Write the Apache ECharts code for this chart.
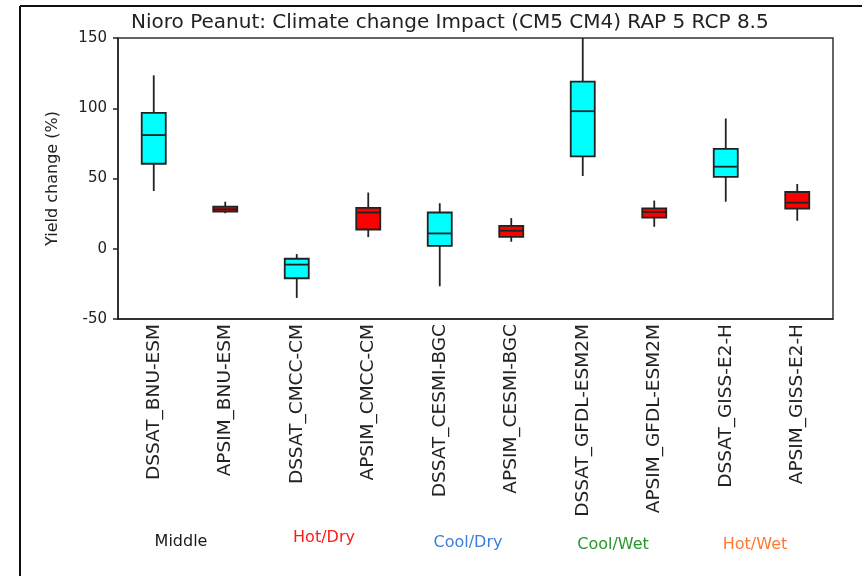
<!DOCTYPE html>
<html>
<head>
<meta charset="utf-8">
<script src="https://cdn.jsdelivr.net/npm/echarts@6/dist/echarts.min.js"></script>
<style>
  html, body { margin: 0; padding: 0; background: #fff; }
  #chart { width: 862px; height: 576px; }
</style>
</head>
<body>
<div id="chart"></div>
<script>
// Model x GCM combinations along the x axis
const categories = [
  'DSSAT_BNU-ESM', 'APSIM_BNU-ESM',
  'DSSAT_CMCC-CM', 'APSIM_CMCC-CM',
  'DSSAT_CESMI-BGC', 'APSIM_CESMI-BGC',
  'DSSAT_GFDL-ESM2M', 'APSIM_GFDL-ESM2M',
  'DSSAT_GISS-E2-H', 'APSIM_GISS-E2-H'
];

// Yield change (%) distribution per combination
const whiskerLow  = [41.1, 25.3, -35.0,  8.3, -26.7,  5.0,  51.8, 15.6, 33.5, 19.9];
const quartile1   = [60.5, 26.5, -21.0, 13.7,   2.1,  8.5,  65.7, 22.2, 51.1, 28.6];
const medianVals  = [80.9, 28.1, -11.3, 25.8,  10.9, 12.8,  97.9, 26.2, 58.4, 32.8];
const quartile3   = [96.7, 30.0,  -7.1, 29.1,  25.8, 16.3, 118.9, 28.8, 71.1, 40.4];
const whiskerHigh = [123.4, 33.5, -3.8, 40.0,  32.4, 21.8, 150.0, 34.3, 92.7, 46.1];

// Crop model of each box
const models = ['DSSAT', 'APSIM', 'DSSAT', 'APSIM', 'DSSAT', 'APSIM', 'DSSAT', 'APSIM', 'DSSAT', 'APSIM'];

// Climate scenario groups written under each pair
const groupLabels = ['Middle', 'Hot/Dry', 'Cool/Dry', 'Cool/Wet', 'Hot/Wet'];

const yTicks = { min: -50, max: 150, interval: 50 };

const modelColors = { DSSAT: '#00ffff', APSIM: '#ff0000' };
const groupColors = ['#1a1a1a', '#ff1a1a', '#3a7fdc', '#2a962a', '#ff7a33'];
const groupPos = [[181, 542], [324, 538], [468, 543], [613, 545], [755, 545]];

const FONT = '"DejaVu Sans", Verdana, sans-serif';
const INK = '#222';

const boxData = categories.map((c, i) => [i, whiskerLow[i], quartile1[i], medianVals[i], quartile3[i], whiskerHigh[i]]);

const chart = echarts.init(document.getElementById('chart'), null, { renderer: 'canvas' });

chart.setOption({
  backgroundColor: '#fff',
  animation: false,
  title: {
    text: 'Nioro Peanut: Climate change Impact (CM5 CM4) RAP 5 RCP 8.5',
    left: 126,
    top: 8,
    textStyle: { fontFamily: FONT, fontSize: 20, fontWeight: 'normal', color: INK }
  },
  grid: {
    left: 118, right: 29, top: 38, bottom: 257,
    show: true, borderColor: '#333', borderWidth: 1.5, backgroundColor: 'transparent'
  },
  xAxis: {
    type: 'category',
    data: categories,
    boundaryGap: true,
    axisLine: { onZero: false, lineStyle: { color: INK, width: 1.5 } },
    axisTick: { alignWithLabel: true, length: 5, lineStyle: { color: INK, width: 1.5 } },
    axisLabel: {
      interval: 0, rotate: 90, margin: 5,
      fontFamily: FONT, fontSize: 18.5, color: INK
    },
    splitLine: { show: false }
  },
  yAxis: {
    type: 'value',
    min: yTicks.min, max: yTicks.max, interval: yTicks.interval,
    name: 'Yield change (%)',
    nameLocation: 'middle',
    nameGap: 57,
    nameTextStyle: { fontFamily: FONT, fontSize: 16, color: INK },
    axisLine: { show: true, lineStyle: { color: INK, width: 1.5 } },
    axisTick: { show: true, length: 5, lineStyle: { color: INK, width: 1.5 } },
    axisLabel: { fontFamily: FONT, fontSize: 15, color: INK, margin: 11 },
    splitLine: { show: false }
  },
  series: [{
    type: 'custom',
    clip: true,
    data: boxData,
    encode: { x: 0, y: [1, 2, 3, 4, 5] },
    renderItem: function (params, api) {
      const idx = api.value(0);
      const lo = api.coord([idx, api.value(1)]);
      const q1 = api.coord([idx, api.value(2)]);
      const md = api.coord([idx, api.value(3)]);
      const q3 = api.coord([idx, api.value(4)]);
      const hi = api.coord([idx, api.value(5)]);
      const half = api.size([1, 0])[0] * 0.168;
      const fill = modelColors[models[params.dataIndex]];
      const line = { stroke: INK, lineWidth: 1.8 };
      return {
        type: 'group',
        children: [
          { type: 'line', shape: { x1: lo[0], y1: lo[1], x2: q1[0], y2: q1[1] }, style: line },
          { type: 'line', shape: { x1: q3[0], y1: q3[1], x2: hi[0], y2: hi[1] }, style: line },
          { type: 'rect', shape: { x: q3[0] - half, y: q3[1], width: half * 2, height: q1[1] - q3[1] },
            style: { fill: fill, stroke: INK, lineWidth: 1.8 } },
          { type: 'line', shape: { x1: md[0] - half, y1: md[1], x2: md[0] + half, y2: md[1] }, style: line }
        ]
      };
    }
  }],
  graphic: [
    // outer frame (top and left edges)
    { type: 'line', shape: { x1: 20, y1: 6, x2: 862, y2: 6 }, style: { stroke: '#111', lineWidth: 2 } },
    { type: 'line', shape: { x1: 20, y1: 6, x2: 20, y2: 576 }, style: { stroke: '#111', lineWidth: 2 } }
  ].concat(groupLabels.map((g, i) => ({
    type: 'text',
    x: groupPos[i][0], y: groupPos[i][1],
    style: {
      text: g, fill: groupColors[i], font: '16px ' + FONT,
      textAlign: 'center', textVerticalAlign: 'middle'
    }
  })))
});
</script>
</body>
</html>
